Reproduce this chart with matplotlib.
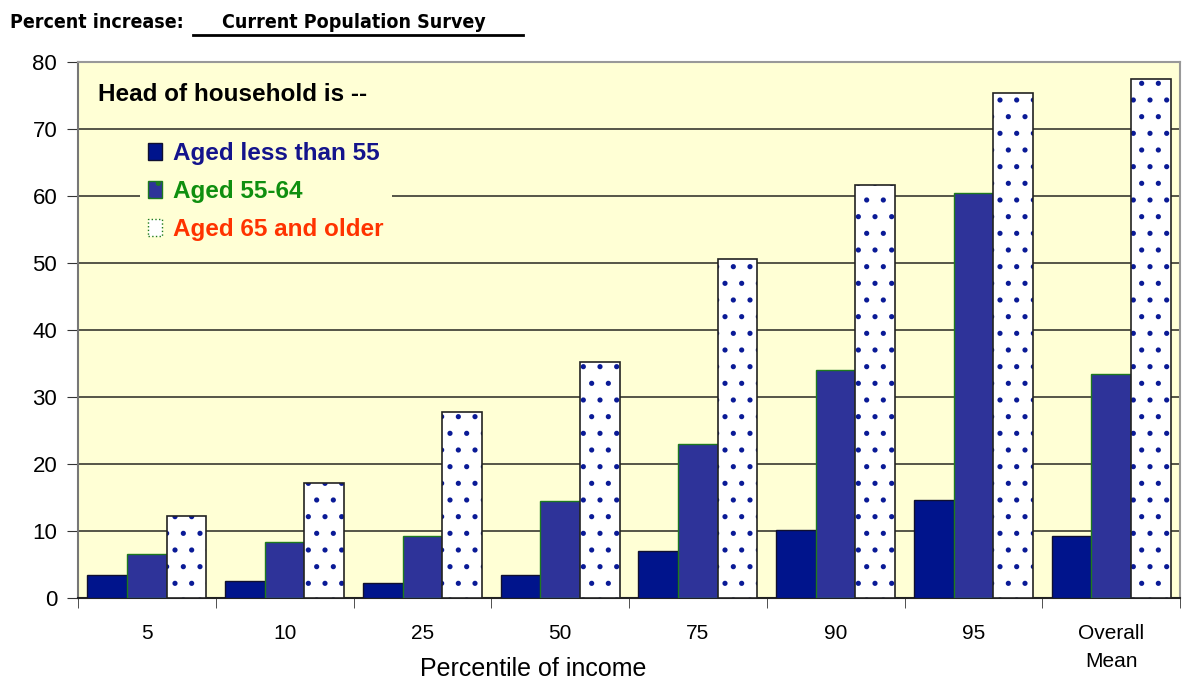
import numpy as np
import matplotlib
matplotlib.use('Agg')
from matplotlib import pyplot as plt
from matplotlib import font_manager
from matplotlib.patches import Patch

categories = ['5', '10', '25', '50', '75', '90', '95', 'Overall\nMean']
under_55 = [3.5, 2.6, 2.2, 3.5, 7.0, 10.2, 14.6, 9.3]
aged_55_64 = [6.5, 8.3, 9.2, 14.5, 23.0, 34.0, 60.4, 33.4]
aged_65_up = [12.3, 17.2, 27.7, 35.2, 50.6, 61.7, 75.3, 77.5]
series_labels = ['Aged less than 55', 'Aged 55-64', 'Aged 65 and older']
yticks = [0, 10, 20, 30, 40, 50, 60, 70, 80]

plt.rcParams['font.family'] = ['Liberation Sans', 'DejaVu Sans']
plt.rcParams['hatch.linewidth'] = 1.3

# condensed face for the header if one is installed
cond = [f for f in font_manager.fontManager.ttflist
        if 'Condensed' in f.fname and f.weight in ('bold', 700)]
header_font = dict(family='DejaVu Sans', fontstretch='condensed') if cond else dict(family='Liberation Sans')

bg = '#FFFFD5'
dark = '#00148C'
mid = '#2E3399'
navy = '#0A1A96'

fig = plt.figure(figsize=(11.85, 6.84), dpi=100)
ax = fig.add_axes([78 / 1185, 86 / 684, 1102 / 1185, 536 / 684])
ax.set_facecolor(bg)

x = np.arange(len(categories))
w = 0.288
ax.bar(x - w, under_55, w, color=dark, edgecolor='#101030', linewidth=1, zorder=3)
ax.bar(x, aged_55_64, w, color=mid, edgecolor='#1E7A1E', linewidth=1, zorder=3)
ax.bar(x + w, aged_65_up, w, color='white', edgecolor=navy, hatch='.', linewidth=0, zorder=3)
ax.bar(x + w, aged_65_up, w, fill=False, edgecolor='#222222', linewidth=1.2, zorder=4)

ax.set_xlim(-0.5, len(categories) - 0.5)
ax.set_ylim(0, 80)
ax.set_yticks(yticks)
ax.yaxis.grid(True, color='#555548', linewidth=1.4, zorder=0)
ax.set_axisbelow(True)
ax.tick_params(axis='y', labelsize=16, length=8, color='#333333', pad=7)

ax.set_xticks(x)
ax.set_xticklabels(categories, fontsize=15, linespacing=1.55)
ax.set_xticks(np.arange(-0.5, len(categories)), minor=True)
ax.tick_params(axis='x', which='major', length=0, pad=19)
ax.tick_params(axis='x', which='minor', length=7, color='#333333')
ax.set_xlabel('Percentile of income', fontsize=18)
ax.xaxis.set_label_coords(0.413, -0.11)

for side in ['top', 'right']:
    ax.spines[side].set_color('#999999')
    ax.spines[side].set_linewidth(1.5)
ax.spines['left'].set_color('#777777')
ax.spines['left'].set_linewidth(1.5)
ax.spines['bottom'].set_color('#222222')
ax.spines['bottom'].set_linewidth(1.5)

# legend block
ax.text(0.018, 0.96, 'Head of household is --', transform=ax.transAxes,
        fontsize=17.5, fontweight='bold', va='top', ha='left', zorder=6)
handles = [Patch(facecolor=dark, edgecolor='#101030'),
           Patch(facecolor=mid, edgecolor='#1E7A1E', hatch='.'),
           Patch(facecolor='white', edgecolor='#1E7A1E', linestyle=':')]
leg = ax.legend(handles, series_labels, loc='upper left', bbox_to_anchor=(0.056, 0.867),
                frameon=True, facecolor=bg, edgecolor='none', framealpha=1,
                labelcolor=['#14148C', '#0F8F0F', '#FF3300'],
                prop={'weight': 'bold', 'size': 17.5},
                handlelength=0.55, handleheight=0.7, handletextpad=0.45,
                labelspacing=0.62, borderpad=0.35, borderaxespad=0, fancybox=False)
leg.set_zorder(5)

fig.text(10 / 1185, 1 - 22 / 684, 'Percent increase:', fontsize=14, fontweight='bold',
         va='center', **header_font)
fig.text(222 / 1185, 1 - 22 / 684, 'Current Population Survey', fontsize=14, fontweight='bold',
         va='center', **header_font)
fig.add_artist(plt.Line2D([193 / 1185, 523 / 1185], [1 - 35 / 684, 1 - 35 / 684],
                          color='black', linewidth=2))

fig.savefig('out.png', dpi=100)
